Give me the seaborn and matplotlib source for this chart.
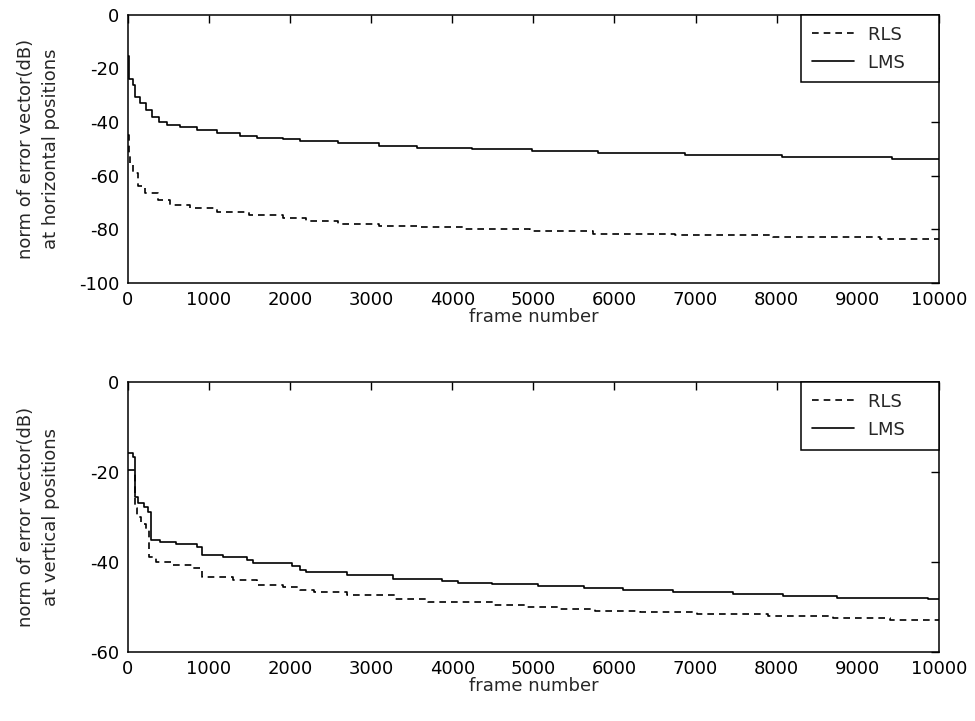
import pandas as pd
import matplotlib
matplotlib.use("Agg")
import matplotlib.pyplot as plt
import seaborn as sns

#%% data (step levels: frame where level starts, dB)

top_lms_frame = [0, 15, 60, 90, 150, 220, 300, 380, 480, 640, 850, 1100, 1380, 1590,
                 1910, 2120, 2590, 3100, 3560, 4250, 4980, 5800, 6870, 8060, 9420, 10000]
top_lms_db = [-15.5, -24, -26, -30.5, -33, -35.5, -38, -40, -41, -41.8, -42.9, -44, -45.1, -45.8,
              -46.4, -47.1, -47.9, -48.8, -49.5, -50.2, -50.7, -51.4, -52.1, -52.9, -53.6, -53.6]

top_rls_frame = [0, 10, 30, 60, 125, 210, 370, 520, 765, 1100, 1500, 1910, 2200, 2590,
                 3100, 3600, 4130, 4960, 5735, 6745, 7950, 9270, 10000]
top_rls_db = [-45, -51.5, -56, -59, -64, -66.4, -69, -70.9, -72, -73.4, -74.6, -75.8, -76.9, -78,
              -78.6, -79.1, -80, -80.8, -81.6, -82.1, -82.7, -83.6, -83.6]

bot_lms_frame = [0, 60, 85, 130, 200, 250, 290, 400, 600, 850, 920, 1170, 1470, 1540, 2030,
                 2120, 2200, 2700, 3270, 3870, 4070, 4490, 5060, 5630, 6100, 6720, 7460,
                 8080, 8740, 9860, 10000]
bot_lms_db = [-15.8, -16.6, -25.5, -26.8, -27.8, -29, -35.1, -35.6, -35.9, -36.6, -38.4, -38.8,
              -39.6, -40.3, -41, -41.8, -42.2, -42.9, -43.8, -44.2, -44.6, -45, -45.3, -45.8,
              -46.2, -46.7, -47.1, -47.5, -47.9, -48.3, -48.3]

bot_rls_frame = [0, 85, 110, 160, 220, 265, 350, 550, 800, 920, 1300, 1590, 1910, 2120, 2300,
                 2700, 3290, 3700, 4500, 4920, 5330, 5760, 6310, 7020, 7890, 8690, 9400, 10000]
bot_rls_db = [-19.6, -28, -30, -31.5, -33, -38.8, -39.9, -40.7, -41.3, -43.3, -44, -45.1, -45.5,
              -46.2, -46.7, -47.4, -48.2, -49, -49.6, -50.1, -50.4, -50.8, -51.2, -51.6, -52.1,
              -52.5, -53, -53]

x_ticks = list(range(0, 10001, 1000))
top_y_ticks = [0, -20, -40, -60, -80, -100]
bot_y_ticks = [0, -20, -40, -60]


def to_long(rls_f, rls_v, lms_f, lms_v):
    return pd.concat([
        pd.DataFrame({"frame": rls_f, "dB": rls_v, "method": "RLS"}),
        pd.DataFrame({"frame": lms_f, "dB": lms_v, "method": "LMS"}),
    ], ignore_index=True)


df_top = to_long(top_rls_frame, top_rls_db, top_lms_frame, top_lms_db)
df_bot = to_long(bot_rls_frame, bot_rls_db, bot_lms_frame, bot_lms_db)

#%% Plot
sns.set_style("white")
plt.rcParams["font.family"] = ["DejaVu Sans"]
plt.rcParams["font.size"] = 13
plt.rcParams["axes.unicode_minus"] = False

fig = plt.figure(figsize=(9.75, 7.21), dpi=100)
ax1 = fig.add_axes([0.131, 0.6075, 0.832, 0.372])
ax2 = fig.add_axes([0.131, 0.0957, 0.832, 0.3745])

panels = [
    (ax1, df_top, (-100, 0), top_y_ticks, "norm of error vector(dB)\nat horizontal positions"),
    (ax2, df_bot, (-60, 0), bot_y_ticks, "norm of error vector(dB)\nat vertical positions"),
]

for ax, d, ylim, yt, ylab in panels:
    sns.lineplot(data=d, x="frame", y="dB", hue="method", style="method",
                 hue_order=["RLS", "LMS"], style_order=["RLS", "LMS"],
                 palette={"RLS": "black", "LMS": "black"},
                 dashes={"RLS": (4, 3), "LMS": ""},
                 estimator=None, drawstyle="steps-post", linewidth=1.2, ax=ax)
    ax.set_xlim(0, 10000)
    ax.set_ylim(*ylim)
    ax.set_xticks(x_ticks)
    ax.set_yticks(yt)
    ax.set_xlabel("frame number", fontsize=13, labelpad=-1)
    ax.set_ylabel(ylab, fontsize=13, linespacing=1.5)
    ax.yaxis.set_label_coords(-0.084, 0.5)
    ax.tick_params(direction="in", length=6, width=1, top=True, right=True,
                   labelsize=13, pad=6, colors="black")
    for sp in ax.spines.values():
        sp.set_visible(True)
        sp.set_color("black")
        sp.set_linewidth(1.1)

    old = ax.get_legend()
    handles = old.legend_handles
    labels = [t.get_text() + "    " for t in old.texts]
    old.remove()
    leg = ax.legend(handles, labels, loc="upper right", frameon=True, fancybox=False,
                    framealpha=1, borderaxespad=0, borderpad=0.6, handlelength=2.3,
                    handletextpad=0.8, labelspacing=0.55, fontsize=13)
    leg.get_frame().set_edgecolor("black")
    leg.get_frame().set_linewidth(1.1)
    for h in leg.get_lines():
        h.set_color("black")
        h.set_linewidth(1.2)

fig.savefig("out.png", dpi=100)
